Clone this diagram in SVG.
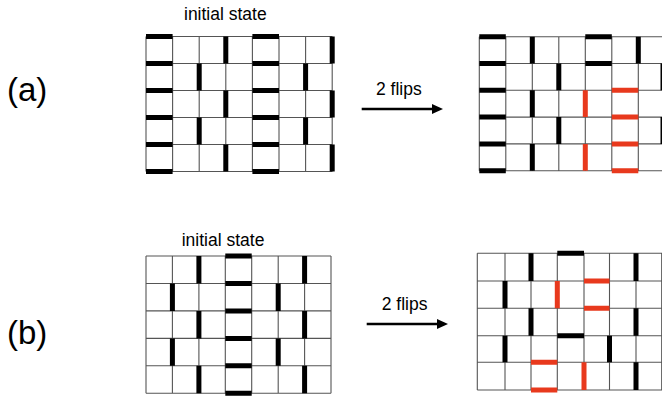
<svg xmlns="http://www.w3.org/2000/svg" width="662" height="398" viewBox="0 0 662 398">
<style>
text{font-family:"Liberation Sans",Arial,sans-serif;fill:#000}
.lbl{font-size:33px}
.cap{font-size:17.5px}
.grid{fill:none;stroke:#555;stroke-width:1.1}
.blk{fill:none;stroke:#000;stroke-width:5}
.red{fill:none;stroke:#e8391d;stroke-width:5}
.arr{fill:none;stroke:#000;stroke-width:2.6}
</style>
<defs>
<marker id="ah" markerUnits="userSpaceOnUse" markerWidth="14" markerHeight="12" refX="2" refY="5" orient="auto">
<path d="M0,0 L11,5 L0,10 Z" fill="#000"/>
</marker>
</defs>
<rect width="662" height="398" fill="#fff"/>

<g id="label-a"><text class="lbl" x="7" y="101">(a)</text></g>
<g id="label-b"><text class="lbl" x="7" y="344">(b)</text></g>

<g id="a-initial">
<text class="cap" x="184" y="19.5">initial state</text>
<path class="grid" d="M146 36.5V171.5M172.6 36.5V171.5M199.2 36.5V171.5M225.8 36.5V171.5M252.4 36.5V171.5M279 36.5V171.5M305.6 36.5V171.5M332.2 36.5V171.5M146 36.5H332.2M146 63.5H332.2M146 90.5H332.2M146 117.5H332.2M146 144.5H332.2M146 171.5H332.2"/>
<path class="blk" d="M146 36.5H172.6M146 63.5H172.6M146 90.5H172.6M146 117.5H172.6M146 144.5H172.6M146 171.5H172.6M252.4 36.5H279M252.4 63.5H279M252.4 90.5H279M252.4 117.5H279M252.4 144.5H279M252.4 171.5H279M225.8 36.5V63.5M225.8 90.5V117.5M225.8 144.5V171.5M199.2 63.5V90.5M199.2 117.5V144.5M332.2 36.5V63.5M332.2 90.5V117.5M332.2 144.5V171.5M305.6 63.5V90.5M305.6 117.5V144.5"/>
</g>

<g id="a-final">
<path class="grid" d="M479.3 36.7V170.7M505.8 36.7V170.7M532.3 36.7V170.7M558.8 36.7V170.7M585.3 36.7V170.7M611.8 36.7V170.7M638.3 36.7V170.7M479.3 36.7H662M479.3 63.5H662M479.3 90.3H662M479.3 117.1H662M479.3 143.9H662M479.3 170.7H662"/>
<path class="blk" d="M479.3 36.7H505.8M479.3 63.5H505.8M479.3 90.3H505.8M479.3 117.1H505.8M479.3 143.9H505.8M479.3 170.7H505.8M532.3 36.7V63.5M532.3 90.3V117.1M532.3 143.9V170.7M558.8 63.5V90.3M558.8 117.1V143.9M585.3 36.7H611.8M585.3 63.5H611.8M638.3 36.7V63.5M663 63.5V90.3M663 117.1V143.9"/>
<path class="red" d="M585.3 90.3V117.1M585.3 143.9V170.7M611.8 90.3H638.3M611.8 117.1H638.3M611.8 143.9H638.3M611.8 170.7H638.3"/>
</g>

<g id="b-initial">
<text class="cap" x="181.7" y="245.5">initial state</text>
<path class="grid" d="M146 256V393.3M172.4 256V393.3M198.9 256V393.3M225.3 256V393.3M251.7 256V393.3M278.2 256V393.3M304.6 256V393.3M331 256V393.3M146 256H331M146 283.5H331M146 310.9H331M146 338.4H331M146 365.8H331M146 393.3H331"/>
<path class="blk" d="M225.3 256H251.7M225.3 283.5H251.7M225.3 310.9H251.7M225.3 338.4H251.7M225.3 365.8H251.7M225.3 393.3H251.7M198.9 256V283.5M198.9 310.9V338.4M198.9 365.8V393.3M172.4 283.5V310.9M172.4 338.4V365.8M304.6 256V283.5M304.6 310.9V338.4M304.6 365.8V393.3M278.2 283.5V310.9M278.2 338.4V365.8"/>
</g>

<g id="b-final">
<path class="grid" d="M477.3 253.3V390M505 253.3V390M531 253.3V390M557.3 253.3V390M584 253.3V390M609.5 253.3V390M636 253.3V390M661.7 253.3V390M477.3 253.3H662M477.3 281H662M477.3 308.3H662M477.3 335.7H662M477.3 362.3H662M477.3 390H662"/>
<path class="blk" d="M531 253.3V281M531 308.3V335.7M505 281V308.3M505 335.7V362.3M557.3 253.3H584M557.3 335.7H584M636 253.3V281M636 308.3V335.7M636 362.3V390M609.5 335.7V362.3"/>
<path class="red" d="M557.3 281V308.3M584 281H609.5M584 308.3H609.5M531 362.3H557.3M531 390H557.3M584 362.3V390"/>
</g>

<g id="connectors">
<g id="arrow-a">
<text class="cap" x="376" y="95">2 flips</text>
<line class="arr" x1="361.7" y1="109" x2="434" y2="109" marker-end="url(#ah)"/>
</g>
<g id="arrow-b">
<text class="cap" x="381.7" y="310">2 flips</text>
<line class="arr" x1="366.7" y1="324" x2="439" y2="324" marker-end="url(#ah)"/>
</g>
</g>
</svg>
